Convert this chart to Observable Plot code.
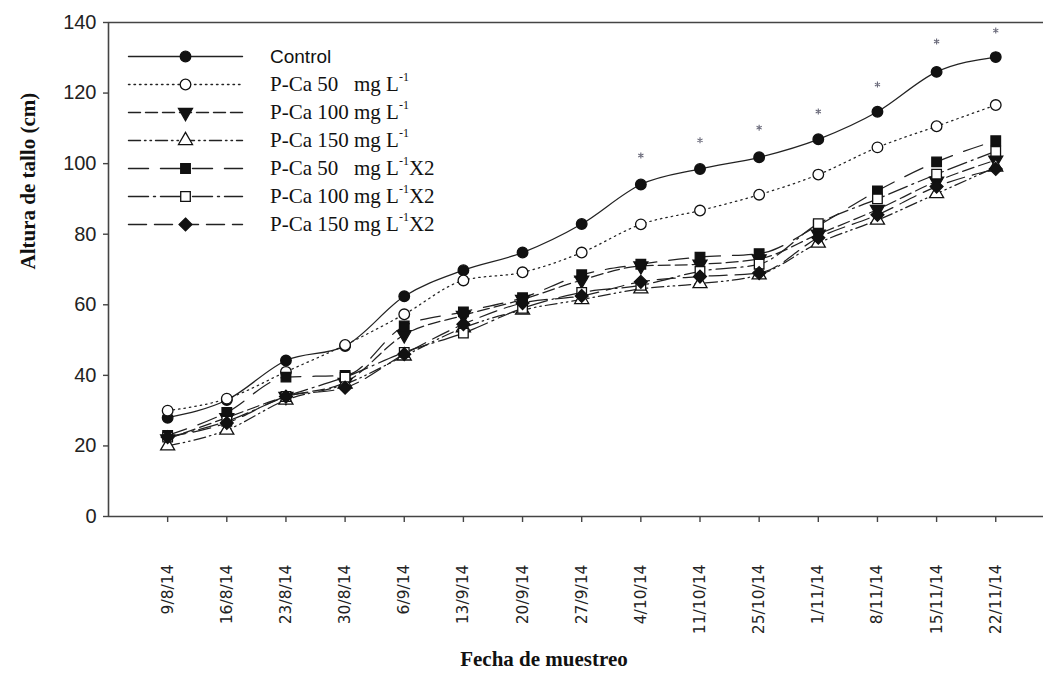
<!DOCTYPE html>
<html>
<head>
<meta charset="utf-8">
<script src="https://cdn.jsdelivr.net/npm/d3@7"></script>
<script src="https://cdn.jsdelivr.net/npm/@observablehq/plot@0.6"></script>
<style>
  body { margin: 0; background: #fff; }
  #chart { position: relative; width: 1043px; height: 683px; overflow: hidden; }
  #chart svg { position: absolute; left: 0; top: 0; overflow: visible; }
  .lg { position: absolute; white-space: pre; line-height: 1; color: #111; transform: translateY(-50%); }
  .lg.serif { font-family: "Liberation Serif", "Times New Roman", serif; font-size: 21px; }
  .lg.sans { font-family: "Liberation Sans", Arial, sans-serif; font-size: 19px; }
  .lg sup { font-size: 12px; position: relative; top: -3px; vertical-align: top; }
</style>
</head>
<body>
<div id="chart"></div>
<script>
// Sampling dates (x axis)
const dates = ["9/8/14", "16/8/14", "23/8/14", "30/8/14", "6/9/14", "13/9/14", "20/9/14",
  "27/9/14", "4/10/14", "11/10/14", "25/10/14", "1/11/14", "8/11/14", "15/11/14", "22/11/14"];

// Stem height (cm) per treatment
const control  = [28, 33, 44.2, 48.3, 62.4, 69.8, 74.8, 82.9, 94.1, 98.5, 101.8, 106.9, 114.7, 126, 130.2];
const pca50    = [30, 33.4, 41, 48.6, 57.3, 66.9, 69.2, 74.8, 82.8, 86.7, 91.2, 96.9, 104.6, 110.6, 116.6];
const pca100   = [22, 28, 34, 38, 51.5, 57, 61.5, 67, 71, 71.5, 73, 80, 87, 95, 101];
const pca150   = [20, 24.5, 33, 37.5, 45.5, 53.5, 58.5, 61.5, 64.5, 66, 68.5, 77.5, 84, 91.5, 99];
const pca50x2  = [23, 29.5, 39.5, 40, 54, 58, 62, 68.5, 71.5, 73.5, 74.5, 82.5, 92.3, 100.5, 106.5];
const pca100x2 = [22.5, 27, 34, 39.5, 46.5, 52, 59, 63.5, 65.5, 69.5, 71.5, 83, 90, 97, 103.5];
const pca150x2 = [22.5, 26.5, 34, 36.5, 46, 54.5, 60.5, 62.5, 66.5, 68, 69, 79, 85.5, 93.5, 98.5];

// Significance marks (*) above the control curve
const starDates  = ["4/10/14", "11/10/14", "25/10/14", "1/11/14", "8/11/14", "15/11/14", "22/11/14"];
const starHeight = [102.3, 106.6, 110.2, 114.8, 122.4, 134.6, 137.7];

const yTicks = [0, 20, 40, 60, 80, 100, 120, 140];

// Treatment names (legend text uses superscripts)
const seriesNames = ["Control", "P-Ca 50 mg L-1", "P-Ca 100 mg L-1", "P-Ca 150 mg L-1",
  "P-Ca 50 mg L-1X2", "P-Ca 100 mg L-1X2", "P-Ca 150 mg L-1X2"];
const seriesLabels = ["Control", "P-Ca 50   mg L<sup>-1</sup>", "P-Ca 100 mg L<sup>-1</sup>",
  "P-Ca 150 mg L<sup>-1</sup>", "P-Ca 50   mg L<sup>-1</sup>X2", "P-Ca 100 mg L<sup>-1</sup>X2",
  "P-Ca 150 mg L<sup>-1</sup>X2"];
const seriesValues = [control, pca50, pca100, pca150, pca50x2, pca100x2, pca150x2];

// Downward-pointing triangle symbol
const triangleDown = {
  draw(context, size) {
    const y = -Math.sqrt(size / (Math.sqrt(3) * 3));
    context.moveTo(0, -y * 2);
    context.lineTo(-Math.sqrt(3) * y, y);
    context.lineTo(Math.sqrt(3) * y, y);
    context.closePath();
  }
};

const ink = "#111";
const styles = [
  {dash: null,               symbol: "circle",     fill: ink,    r: 5.3},
  {dash: "1.5,4",            symbol: "circle",     fill: "#fff", r: 5.3},
  {dash: "12,5",             symbol: triangleDown, fill: ink,    r: 5.2},
  {dash: "12,4,1.5,4,1.5,4", symbol: "triangle",   fill: "#fff", r: 5.2},
  {dash: "20,12",            symbol: "square",     fill: ink,    r: 5.4},
  {dash: "20,5,2,5",         symbol: "square",     fill: "#fff", r: 5.4},
  {dash: "18,8",             symbol: "diamond2",   fill: ink,    r: 5.8}
];

const rows = seriesNames.flatMap((name, s) =>
  seriesValues[s].map((v, i) => ({series: name, s, i, date: dates[i], value: v})));

const W = 1043, H = 683;
const step = 59.15;                 // px between sampling dates
const left = 108;
const xMax = (W - left) / step - 1; // frame runs to the right edge

const seriesMarks = [];
styles.forEach((st, s) => {
  const data = rows.filter(d => d.s === s);
  seriesMarks.push(Plot.line(data, {
    x: "i", y: "value", curve: "monotone-x",
    stroke: "#222", strokeWidth: 1.25, strokeDasharray: st.dash
  }));
});
styles.forEach((st, s) => {
  const data = rows.filter(d => d.s === s);
  seriesMarks.push(Plot.dot(data, {
    x: "i", y: "value", symbol: st.symbol, r: st.r,
    fill: st.fill, stroke: ink, strokeWidth: 1.3
  }));
});

const chart = Plot.plot({
  width: W, height: H,
  marginLeft: left, marginRight: 0, marginTop: 22, marginBottom: 167,
  style: {background: "transparent", overflow: "visible"},
  x: {type: "linear", domain: [-1, xMax], axis: null},
  y: {domain: [0, 140], axis: null},
  marks: [
    Plot.ruleY([140], {stroke: "#444", strokeWidth: 1.6}),
    Plot.ruleY([0], {stroke: "#444", strokeWidth: 1.6}),
    Plot.ruleX([-1], {stroke: "#444", strokeWidth: 1.6}),
    Plot.axisY(yTicks, {
      tickSize: 5, tickPadding: 7, stroke: "#444", strokeWidth: 1.4,
      fontSize: 20, fontFamily: "Liberation Sans, Arial, sans-serif", fill: "#222",
      label: null
    }),
    Plot.axisX(d3.range(dates.length), {
      tickSize: 6, tickPadding: 42, tickRotate: -90, stroke: "#444", strokeWidth: 1.4,
      tickFormat: i => dates[i],
      fontSize: 15.5, fontFamily: "DejaVu Sans, sans-serif", fill: "#222",
      label: null
    }),
    Plot.text(["Altura de tallo (cm)"], {
      frameAnchor: "left", dx: -80, rotate: -90,
      fontFamily: "Liberation Serif, Times New Roman, serif", fontWeight: "bold",
      fontSize: 21, fill: "#111"
    }),
    Plot.text(["Fecha de muestreo"], {
      frameAnchor: "bottom", dx: -32, dy: 149,
      fontFamily: "Liberation Serif, Times New Roman, serif", fontWeight: "bold",
      fontSize: 21, fill: "#111"
    }),
    ...seriesMarks,
    Plot.dot(starDates, {
      x: d => dates.indexOf(d), y: (d, k) => starHeight[k],
      symbol: "asterisk", r: 2.8, stroke: "#6a6a7a", strokeWidth: 1.1
    })
  ]
});

const host = document.getElementById("chart");
host.appendChild(chart);

// Legend: line samples with markers, labels as HTML for superscripts
const lgLeft = 120, lgTop = 40;
const legendRows = seriesNames.map((name, s) => ({name, s}));
const legend = Plot.plot({
  width: 135, height: 200, margin: 0,
  style: {background: "transparent", overflow: "visible"},
  x: {domain: [0, 1], range: [8, 122], axis: null},
  y: {type: "point", domain: seriesNames, range: [14, 185], padding: 0, axis: null},
  marks: [
    ...styles.map((st, s) => Plot.line([0, 1], {
      x: d => d, y: () => seriesNames[s],
      stroke: "#222", strokeWidth: 1.4, strokeDasharray: st.dash
    })),
    ...styles.map((st, s) => Plot.dot([legendRows[s]], {
      x: () => 0.5, y: "name", symbol: st.symbol, r: st.r,
      fill: st.fill, stroke: ink, strokeWidth: 1.3
    }))
  ]
});
legend.style.left = lgLeft + "px";
legend.style.top = lgTop + "px";
host.appendChild(legend);

const ly = legend.scale("y");
seriesLabels.forEach((html, s) => {
  const div = document.createElement("div");
  div.className = "lg " + (s === 0 ? "sans" : "serif");
  div.innerHTML = html;
  div.style.left = "270px";
  div.style.top = (lgTop + ly.apply(seriesNames[s])) + "px";
  host.appendChild(div);
});
</script>
</body>
</html>
